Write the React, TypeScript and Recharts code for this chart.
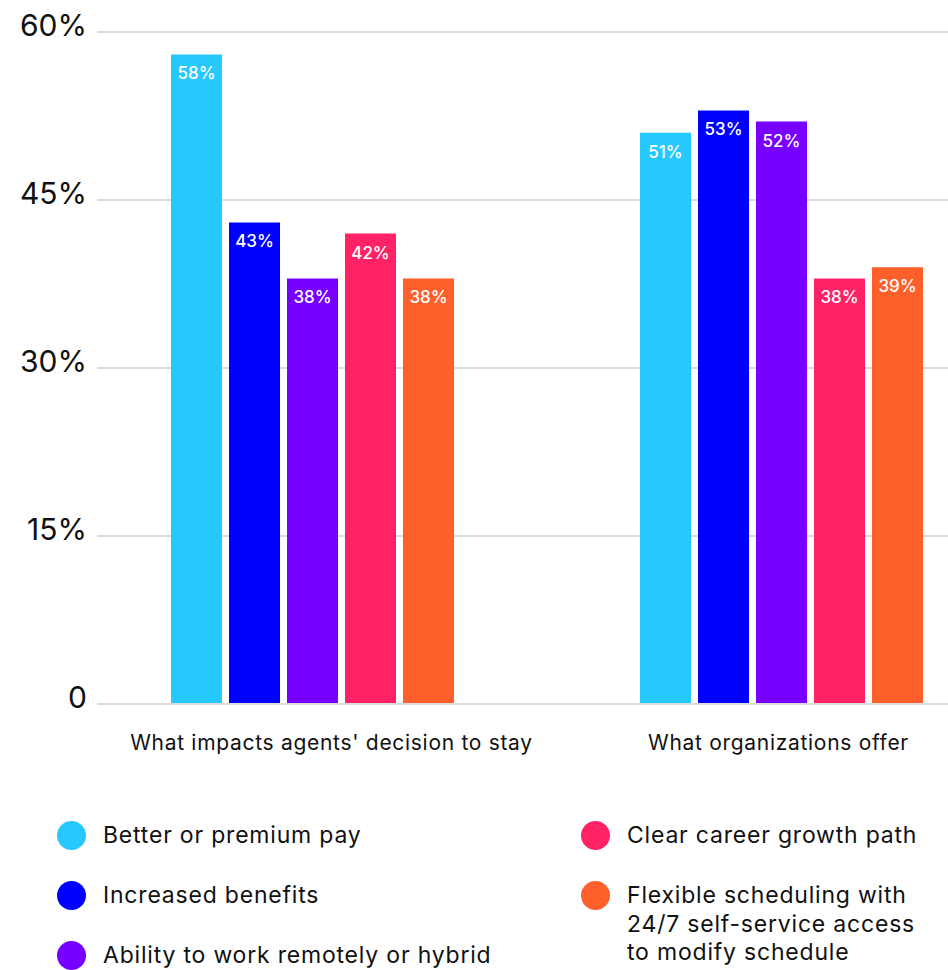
import React from "react";
import { BarChart, Bar, XAxis, YAxis, CartesianGrid, Legend, LabelList } from "recharts";

const categories = ["What impacts agents' decision to stay", "What organizations offer"];

const seriesNames = [
  "Better or premium pay",
  "Increased benefits",
  "Ability to work remotely or hybrid",
  "Clear career growth path",
  "Flexible scheduling with\n24/7 self-service access\nto modify schedule",
];
const seriesColors = ["#26C9FF", "#0000FF", "#7700FF", "#FF2366", "#FF5F2A"];

// one value per category
const premiumPay = [58, 51];
const benefits = [43, 53];
const remoteWork = [38, 52];
const careerPath = [42, 38];
const flexibleScheduling = [38, 39];

const yTicks = [0, 15, 30, 45, 60];

const seriesValues = [premiumPay, benefits, remoteWork, careerPath, flexibleScheduling];
const seriesKeys = ["pay", "benefits", "remote", "career", "flexible"];

const chartData = categories.map((name, i) => {
  const row: Record<string, string | number> = { name };
  seriesKeys.forEach((key, s) => {
    row[key] = seriesValues[s][i];
  });
  return row;
});

const xLabelShift = [19, -3];

const YTick = (props: any) => {
  const { x, y, payload } = props;
  return (
    <text x={x} y={y + 4} textAnchor="end" fontSize={30} fill="#111">
      {payload.value === 0 ? "0" : `${payload.value}%`}
    </text>
  );
};

const XTick = (props: any) => {
  const { x, y, payload, index } = props;
  return (
    <text
      x={x + (xLabelShift[index] || 0)}
      y={y + 46}
      textAnchor="middle"
      fontSize={21}
      letterSpacing={0.7}
      fill="#111"
    >
      {payload.value}
    </text>
  );
};

const renderLegend = (props: any) => {
  const items = [...(props.payload || [])].sort(
    (a: any, b: any) => seriesNames.indexOf(a.value) - seriesNames.indexOf(b.value)
  );
  return (
    <div
      style={{
        display: "grid",
        gridTemplateColumns: "524px 367px",
        gridTemplateRows: "repeat(3, 60px)",
        gridAutoFlow: "column",
        paddingLeft: 57,
      }}
    >
      {items.map((item: any) => (
        <div key={item.value} style={{ display: "flex", alignItems: "flex-start" }}>
          <span
            style={{
              width: 29,
              height: 29,
              borderRadius: "50%",
              background: item.color,
              flex: "none",
              marginRight: 17,
            }}
          />
          <span
            style={{
              whiteSpace: "pre",
              lineHeight: "28.5px",
              fontSize: 23,
              letterSpacing: 0.8,
              color: "#111",
            }}
          >
            {item.value}
          </span>
        </div>
      ))}
    </div>
  );
};

export default function App() {
  return (
    <div
      style={{
        position: "absolute",
        left: 0,
        top: 0,
        width: 948,
        height: 970,
        fontFamily: "Inter, sans-serif",
        overflow: "hidden",
      }}
    >
      <BarChart
        width={948}
        height={970}
        data={chartData}
        margin={{ top: 32, right: 0, left: 0, bottom: 206 }}
        barSize={51}
        barGap={7}
      >
        <CartesianGrid vertical={false} stroke="#dcdcdc" strokeWidth={2} />
        <XAxis
          dataKey="name"
          height={60}
          padding={{ left: -19, right: -68 }}
          tickLine={false}
          tickSize={0}
          tickMargin={0}
          axisLine={{ stroke: "#dcdcdc", strokeWidth: 2 }}
          tick={<XTick />}
          interval={0}
        />
        <YAxis
          width={97}
          domain={[0, 60]}
          ticks={yTicks}
          axisLine={false}
          tickLine={false}
          tickSize={0}
          tickMargin={10}
          tick={<YTick />}
        />
        <Legend
          content={renderLegend}
          layout="horizontal"
          verticalAlign="middle"
          align="center"
          wrapperStyle={{ position: "absolute", left: 0, top: 821, width: 948, height: 150 }}
        />
        {seriesKeys.map((key, s) => (
          <Bar key={key} dataKey={key} name={seriesNames[s]} fill={seriesColors[s]} isAnimationActive={false}>
            <LabelList
              dataKey={key}
              position="insideTop"
              offset={13}
              fill="#ffffff"
              fontSize={17}
              fontWeight={500}
              formatter={(v: any) => `${v}%`}
            />
          </Bar>
        ))}
      </BarChart>
    </div>
  );
}
